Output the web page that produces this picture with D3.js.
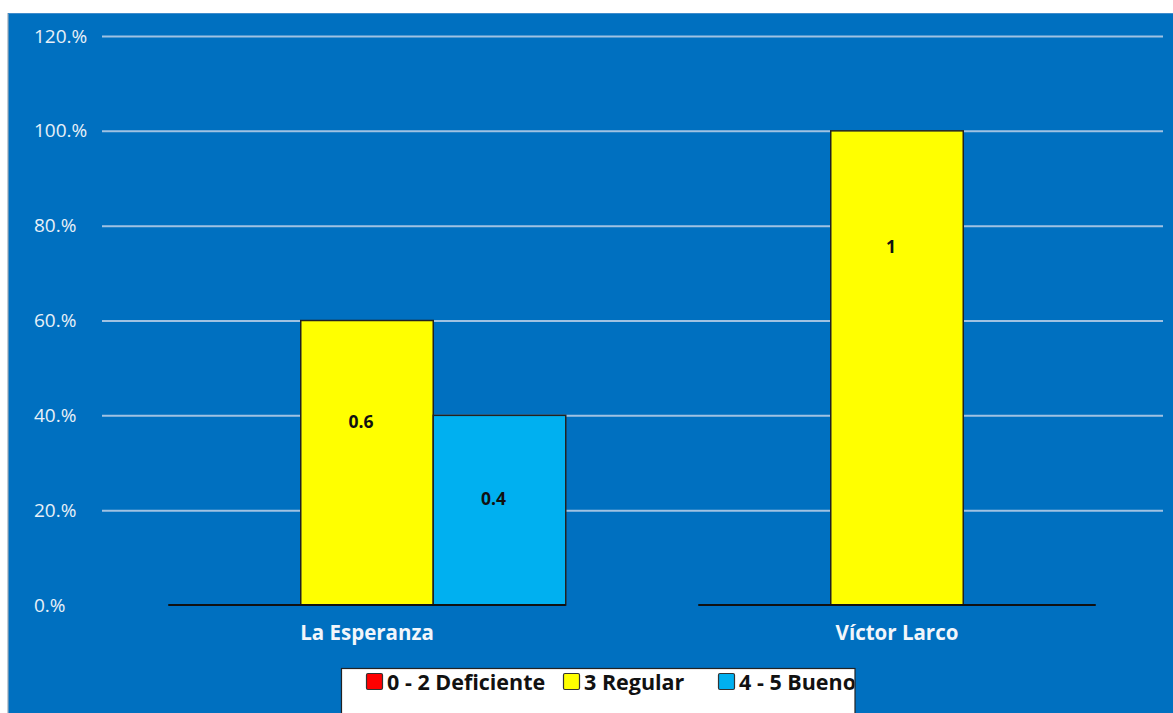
<!DOCTYPE html>
<html>
<head>
<meta charset="utf-8">
<script src="https://cdn.jsdelivr.net/npm/d3@7"></script>
<style>
  html, body { margin: 0; padding: 0; background: #ffffff; }
  svg { display: block; }
</style>
</head>
<body>
<svg id="chart" width="1173" height="713"></svg>
<script>
// ---- data ----
const categories = ["La Esperanza", "Víctor Larco"];
const seriesNames = ["0 - 2 Deficiente", "3 Regular", "4 - 5 Bueno"];
const deficiente = [0, 0];
const regular = [0.6, 1];
const bueno = [0.4, 0];
const yTicks = [0, 0.2, 0.4, 0.6, 0.8, 1.0, 1.2];
const yTickLabels = ["0.%", "20.%", "40.%", "60.%", "80.%", "100.%", "120.%"];
const seriesColors = ["#FF0000", "#FFFF00", "#00B0F0"];

const seriesValues = [deficiente, regular, bueno];
// label placement (fraction of the value where the label sits), matching the original
const labelFrac = { "0.6": 0.645, "0.4": 0.56, "1": 0.755 };

const svg = d3.select("#chart");
const W = 1173, H = 713;

// panel
svg.append("rect").attr("x", 8).attr("y", 13).attr("width", W - 8).attr("height", H - 13)
  .attr("fill", "#0070C0");
svg.append("line").attr("x1", 8).attr("x2", 8).attr("y1", 13).attr("y2", H)
  .attr("stroke", "#9aa9b8").attr("stroke-width", 1.2);
svg.append("line").attr("x1", 8).attr("x2", W).attr("y1", 13.5).attr("y2", 13.5)
  .attr("stroke", "#3f8ccc").attr("stroke-width", 1);

const x0 = d3.scaleBand().domain(categories).range([102, 1162]).padding(0);
const x1 = d3.scaleBand().domain(seriesNames).range([0, x0.bandwidth()])
  .paddingInner(0).paddingOuter(0.5);
const y = d3.scaleLinear().domain([0, 1.2]).range([605, 36]);

// gridlines
const yAxis = d3.axisLeft(y).tickValues(yTicks.filter(d => d > 0)).tickSize(-(1163 - 102)).tickFormat("");
const gGrid = svg.append("g").attr("transform", "translate(102,0)").call(yAxis);
gGrid.select(".domain").remove();
gGrid.selectAll(".tick line").attr("stroke", "#a9c6e4").attr("stroke-width", 2).attr("opacity", 0.95);

// tick labels
svg.append("g").selectAll("text").data(yTicks).join("text")
  .attr("x", 34).attr("y", d => y(d))
  .attr("dy", "0.35em")
  .attr("fill", "#e8f0f8")
  .attr("font-family", "'Open Sans', sans-serif")
  .attr("font-size", 19)
  .text((d, i) => yTickLabels[i]);

// bars
const groups = svg.append("g").selectAll("g").data(categories).join("g")
  .attr("transform", d => `translate(${x0(d)},0)`);

groups.selectAll("rect").data((c, ci) => seriesNames.map((s, si) => ({ s, si, v: seriesValues[si][ci] })))
  .join("rect")
  .filter(d => d.v > 0)
  .attr("x", d => x1(d.s))
  .attr("y", d => y(d.v))
  .attr("width", x1.bandwidth())
  .attr("height", d => y(0) - y(d.v))
  .attr("fill", d => seriesColors[d.si])
  .attr("stroke", "#222")
  .attr("stroke-width", 1.5);

// category baselines
groups.append("line")
  .attr("x1", x1(seriesNames[0]))
  .attr("x2", x1(seriesNames[seriesNames.length - 1]) + x1.bandwidth())
  .attr("y1", y(0)).attr("y2", y(0))
  .attr("stroke", "#111").attr("stroke-width", 2);

// data labels
groups.selectAll("text.lbl").data((c, ci) => seriesNames.map((s, si) => ({ s, si, v: seriesValues[si][ci] })).filter(d => d.v > 0))
  .join("text").attr("class", "lbl")
  .attr("x", d => x1(d.s) + x1.bandwidth() / 2 - 6)
  .attr("y", d => y(d.v * labelFrac[String(d.v)]))
  .attr("dy", "0.35em")
  .attr("text-anchor", "middle")
  .attr("font-family", "'Open Sans', sans-serif")
  .attr("font-weight", "bold")
  .attr("font-size", 17.5)
  .attr("fill", "#111")
  .text(d => String(d.v));

// category labels
svg.append("g").selectAll("text").data(categories).join("text")
  .attr("x", d => x0(d) + x0.bandwidth() / 2)
  .attr("y", 633)
  .attr("dy", "0.35em")
  .attr("text-anchor", "middle")
  .attr("font-family", "'Open Sans', sans-serif")
  .attr("font-weight", "bold")
  .attr("font-size", 20.5)
  .attr("fill", "#f2f6fb")
  .text(d => d);

// legend
svg.append("defs").append("clipPath").attr("id", "legClip")
  .append("rect").attr("x", 341.5).attr("y", 668.5).attr("width", 513).attr("height", 60);
const leg = svg.append("g");
leg.append("rect").attr("x", 341.5).attr("y", 668.5).attr("width", 513.5).attr("height", 60)
  .attr("fill", "#ffffff");
const legX = [366, 563, 718];
const items = leg.append("g").attr("clip-path", "url(#legClip)")
  .selectAll("g").data(seriesNames).join("g")
  .attr("transform", (d, i) => `translate(${legX[i]},673)`);
items.append("rect").attr("x", 0.5).attr("y", 0.5).attr("width", 16).attr("height", 16)
  .attr("fill", (d, i) => seriesColors[i]).attr("stroke", "#333").attr("stroke-width", 1.2).attr("rx", 1.5);
items.append("text").attr("x", 21).attr("y", 9).attr("dy", "0.36em")
  .attr("font-family", "'Open Sans', sans-serif")
  .attr("font-weight", "bold")
  .attr("font-size", 21.5)
  .attr("fill", "#111")
  .text(d => d);
leg.append("rect").attr("x", 341.5).attr("y", 668.5).attr("width", 513.5).attr("height", 60)
  .attr("fill", "none").attr("stroke", "#222").attr("stroke-width", 1.2);
</script>
</body>
</html>
